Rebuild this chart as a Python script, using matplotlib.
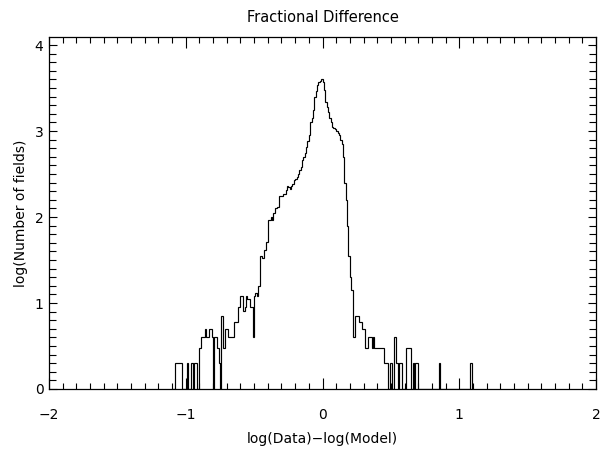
import numpy as np
import matplotlib
matplotlib.use("Agg")
import matplotlib.pyplot as plt
from matplotlib.ticker import MultipleLocator

# Histogram of log(Data)-log(Model): bin width 0.01, bins start at -1.10
bin_start = -1.10
bin_width = 0.01
log_counts = [
    # -1.10 .. -1.01
    0, 0, .301, .301, .301, .301, .301, 0, 0, 0,
    # -1.00 .. -0.91
    0, .301, 0, 0, .301, 0, .301, .301, 0, 0,
    # -0.90 .. -0.81
    .477, .602, .602, .602, .699, .602, .602, .699, .699, .602,
    # -0.80 .. -0.71
    0, .602, .602, .477, .301, 0, .845, .477, .477, .699,
    # -0.70 .. -0.61
    .699, .602, .602, .602, .602, .778, .778, .778, .954, .954,
    # -0.60 .. -0.51
    1.079, 1.079, .903, .954, 1.079, 1.041, 1.041, .954, .954, .602,
    # -0.50 .. -0.41
    1.079, 1.114, 1.079, 1.20, 1.55, 1.55, 1.52, 1.62, 1.62, 1.71,
    # -0.40 .. -0.31
    1.96, 1.96, 2.00, 1.97, 2.05, 2.10, 2.10, 2.12, 2.24, 2.25,
    # -0.30 .. -0.21
    2.24, 2.27, 2.27, 2.31, 2.36, 2.35, 2.33, 2.36, 2.38, 2.43,
    # -0.20 .. -0.11
    2.44, 2.47, 2.50, 2.55, 2.58, 2.66, 2.70, 2.74, 2.82, 2.88,
    # -0.10 .. -0.01
    2.95, 3.11, 3.15, 3.25, 3.40, 3.46, 3.53, 3.57, 3.58, 3.61,
    # 0.00 .. 0.09
    3.57, 3.48, 3.34, 3.28, 3.22, 3.15, 3.11, 3.05, 3.03, 3.02,
    # 0.10 .. 0.19
    3.00, 2.98, 2.95, 2.90, 2.85, 2.70, 2.39, 2.20, 1.90, 1.55,
    # 0.20 .. 0.29
    1.30, 1.15, .602, .602, .845, .845, .845, .778, .778, .699,
    # 0.30 .. 0.39
    .699, .477, .477, .602, .602, .602, .477, .602, .477, .477,
    # 0.40 .. 0.49
    .477, .477, .477, .477, .477, .301, .301, .301, 0, .301,
    # 0.50 .. 0.59
    .301, 0, .602, .602, .301, 0, .301, .301, 0, 0,
    # 0.60 .. 0.69
    0, .477, .477, .477, .477, 0, .301, 0, .301, .301,
    # 0.70 .. 0.79
    0, 0, 0, 0, 0, 0, 0, 0, 0, 0,
    # 0.80 .. 0.89
    0, 0, 0, 0, 0, .301, 0, 0, 0, 0,
    # 0.90 .. 0.99
    0, 0, 0, 0, 0, 0, 0, 0, 0, 0,
    # 1.00 .. 1.09
    0, 0, 0, 0, 0, 0, 0, 0, .301, 0,
]

x_ticks = [-2, -1, 0, 1, 2]
y_ticks = [0, 1, 2, 3, 4]
title = "Fractional Difference"
xlabel = "log(Data)\u2212log(Model)"
ylabel = "log(Number of fields)"

values = np.array(log_counts)
edges = bin_start + bin_width * np.arange(len(values) + 1)

plt.rcParams['font.family'] = ['DejaVu Sans']
fig = plt.figure(figsize=(6.02, 4.50), dpi=100)
ax = fig.add_axes([49/602, 1 - 389/450, (596 - 49)/602, (389 - 37.3)/450])

ax.stairs(values, edges, baseline=0, color='black', linewidth=0.85)

ax.set_xlim(-2, 2)
ax.set_ylim(0, 4.09)
ax.set_xticks(x_ticks)
ax.set_yticks(y_ticks)
ax.set_xticklabels([str(t).replace('-', '\u2212') for t in x_ticks])
ax.set_yticklabels([str(t) for t in y_ticks])
ax.xaxis.set_minor_locator(MultipleLocator(0.1))
ax.yaxis.set_minor_locator(MultipleLocator(0.1))
ax.tick_params(which='both', direction='in', top=True, right=True, width=0.8, colors='black')
ax.tick_params(which='major', axis='x', length=8, labelsize=10, pad=14)
ax.tick_params(which='minor', axis='x', length=4)
ax.tick_params(which='major', axis='y', length=6, labelsize=10, pad=4)
ax.tick_params(which='minor', axis='y', length=5)
for s in ax.spines.values():
    s.set_linewidth(0.9)

ax.set_title(title, fontsize=10.5, pad=11)
ax.set_xlabel(xlabel, fontsize=10, labelpad=7)
ax.set_ylabel(ylabel, fontsize=10, labelpad=5)

fig.savefig("out.png", dpi=100)
